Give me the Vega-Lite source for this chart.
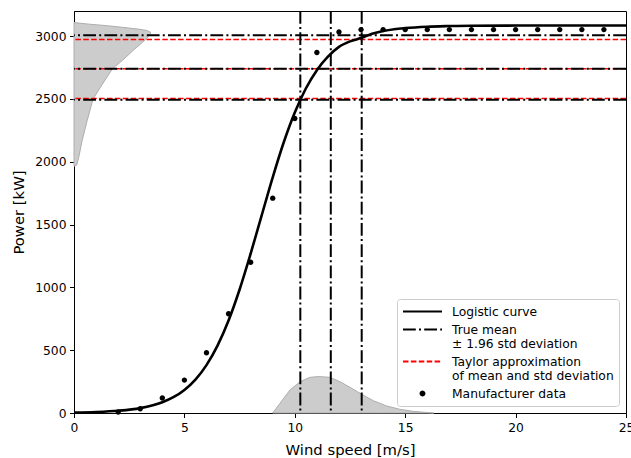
{
  "$schema": "https://vega.github.io/schema/vega-lite/v6.json",
  "autosize": {"type": "none"},
  "padding": {"left": 74, "top": 11, "right": 5, "bottom": 45},
  "width": 552,
  "height": 402,
  "config": {
    "font": "DejaVu Sans",
    "view": {"stroke": "black", "strokeWidth": 1},
    "axis": {
      "domainColor": "black", "tickColor": "black", "labelColor": "black", "titleColor": "black",
      "labelFontSize": 12.3, "titleFontSize": 14.8, "titleFontWeight": "normal",
      "tickSize": 4.5, "grid": false, "labelFont": "DejaVu Sans", "titleFont": "DejaVu Sans",
      "labelPadding": 3.5, "labelFlush": false
    },
    "legend": {
      "orient": "bottom-right", "offset": 7, "padding": 5,
      "fillColor": "rgba(255,255,255,0.8)", "strokeColor": "#cccccc", "cornerRadius": 3,
      "symbolSize": 1521, "symbolStrokeWidth": 2, "symbolFillColor": "black",
      "labelFontSize": 12.3, "labelFont": "DejaVu Sans", "labelColor": "black",
      "labelOffset": 9, "rowPadding": 3, "clipHeight": 15, "labelLimit": 400
    }
  },
  "datasets": {
    "curve": [
      {"v": 0, "P": 3.6}, {"v": 1, "P": 7.9}, {"v": 2, "P": 17.7}, {"v": 3, "P": 38.9},
      {"v": 4, "P": 85.3}, {"v": 4.5, "P": 125.6}, {"v": 5, "P": 183.6}, {"v": 5.5, "P": 266},
      {"v": 6, "P": 381}, {"v": 6.5, "P": 536}, {"v": 7, "P": 736}, {"v": 7.5, "P": 983},
      {"v": 8, "P": 1268}, {"v": 8.5, "P": 1573}, {"v": 9, "P": 1876}, {"v": 9.5, "P": 2155},
      {"v": 10, "P": 2392}, {"v": 10.5, "P": 2583}, {"v": 11, "P": 2729}, {"v": 11.5, "P": 2836},
      {"v": 12, "P": 2914}, {"v": 12.5, "P": 2958}, {"v": 13, "P": 2985}, {"v": 13.5, "P": 3018},
      {"v": 14, "P": 3040}, {"v": 14.5, "P": 3055}, {"v": 15, "P": 3064}, {"v": 16, "P": 3075},
      {"v": 17, "P": 3080}, {"v": 18, "P": 3083}, {"v": 20, "P": 3084}, {"v": 25, "P": 3085}
    ],
    "pts": [
      {"v": 2, "P": 8, "series": "Manufacturer data"}, {"v": 3, "P": 34, "series": "Manufacturer data"},
      {"v": 4, "P": 119, "series": "Manufacturer data"}, {"v": 5, "P": 262, "series": "Manufacturer data"},
      {"v": 6, "P": 480, "series": "Manufacturer data"}, {"v": 7, "P": 790, "series": "Manufacturer data"},
      {"v": 8, "P": 1200, "series": "Manufacturer data"}, {"v": 9, "P": 1710, "series": "Manufacturer data"},
      {"v": 10, "P": 2344, "series": "Manufacturer data"}, {"v": 11, "P": 2870, "series": "Manufacturer data"},
      {"v": 12, "P": 3033, "series": "Manufacturer data"}, {"v": 13, "P": 3052, "series": "Manufacturer data"},
      {"v": 14, "P": 3052, "series": "Manufacturer data"}, {"v": 15, "P": 3052, "series": "Manufacturer data"},
      {"v": 16, "P": 3052, "series": "Manufacturer data"}, {"v": 17, "P": 3052, "series": "Manufacturer data"},
      {"v": 18, "P": 3052, "series": "Manufacturer data"}, {"v": 19, "P": 3052, "series": "Manufacturer data"},
      {"v": 20, "P": 3052, "series": "Manufacturer data"}, {"v": 21, "P": 3052, "series": "Manufacturer data"},
      {"v": 22, "P": 3052, "series": "Manufacturer data"}, {"v": 23, "P": 3052, "series": "Manufacturer data"},
      {"v": 24, "P": 3052, "series": "Manufacturer data"}
    ],
    "hblack": [
      {"P": 3007, "series": "True mean"}, {"P": 2740, "series": "True mean"}, {"P": 2493, "series": "True mean"}
    ],
    "hred": [
      {"P": 2973, "series": "Taylor approximation"}, {"P": 2740, "series": "Taylor approximation"}, {"P": 2503, "series": "Taylor approximation"}
    ],
    "vblack": [
      {"v": 10.25, "series": "True mean"}, {"v": 11.63, "series": "True mean"}, {"v": 13.03, "series": "True mean"}
    ],
    "dleft": [
      {"P": 1965, "w": 0}, {"P": 1972, "w": 0.12}, {"P": 2040, "w": 0.22}, {"P": 2170, "w": 0.37},
      {"P": 2330, "w": 0.6}, {"P": 2498, "w": 0.86}, {"P": 2600, "w": 1.22}, {"P": 2742, "w": 1.75},
      {"P": 2808, "w": 2.2}, {"P": 2890, "w": 2.7}, {"P": 2973, "w": 3.24}, {"P": 3015, "w": 3.45},
      {"P": 3030, "w": 3.47}, {"P": 3045, "w": 3.3}, {"P": 3055, "w": 2.95}, {"P": 3070, "w": 2.2},
      {"P": 3083, "w": 1.5}, {"P": 3095, "w": 0.7}, {"P": 3108, "w": 0}
    ],
    "dbottom": [
      {"v": 9.0, "h": 0}, {"v": 9.33, "h": 77}, {"v": 9.78, "h": 183}, {"v": 10.24, "h": 249},
      {"v": 10.69, "h": 284}, {"v": 11.07, "h": 290}, {"v": 11.59, "h": 284}, {"v": 12.05, "h": 249},
      {"v": 12.5, "h": 204}, {"v": 13.03, "h": 149}, {"v": 13.56, "h": 98}, {"v": 14.16, "h": 56},
      {"v": 14.76, "h": 29}, {"v": 15.37, "h": 13}, {"v": 15.97, "h": 4}, {"v": 16.3, "h": 0}
    ]
  },
  "layer": [
    {
      "data": {"name": "dleft"},
      "mark": {"type": "area", "orient": "horizontal", "fill": "#cccccc", "stroke": "#aeaeae", "strokeWidth": 1},
      "encoding": {
        "x": {"field": "w", "type": "quantitative", "stack": null,
              "scale": {"domain": [0, 25], "nice": false, "zero": false},
              "axis": {"values": [0, 5, 10, 15, 20, 25], "titlePadding": 9},
              "title": "Wind speed [m/s]"},
        "y": {"field": "P", "type": "quantitative",
              "scale": {"domain": [0, 3200], "nice": false},
              "axis": {"values": [0, 500, 1000, 1500, 2000, 2500, 3000], "format": "d", "titlePadding": 8},
              "title": "Power [kW]"}
      }
    },
    {
      "data": {"name": "dbottom"},
      "mark": {"type": "area", "fill": "#cccccc", "stroke": "#aeaeae", "strokeWidth": 1},
      "encoding": {
        "x": {"field": "v", "type": "quantitative", "title": "Wind speed [m/s]"},
        "y": {"field": "h", "type": "quantitative", "stack": null, "title": "Power [kW]"}
      }
    },
    {
      "data": {"name": "hred"},
      "mark": {"type": "rule", "strokeWidth": 1.5},
      "encoding": {
        "y": {"field": "P", "type": "quantitative", "title": "Power [kW]"},
        "color": {"field": "series", "type": "nominal",
                  "scale": {"domain": ["Logistic curve", "True mean", "Taylor approximation", "Manufacturer data"], "range": ["black", "black", "red", "black"]},
                  "legend": {"title": null, "labelExpr": "datum.value == 'True mean' ? ['True mean', '± 1.96 std deviation'] : datum.value == 'Taylor approximation' ? ['Taylor approximation', 'of mean and std deviation'] : datum.label"}},
        "strokeDash": {"field": "series", "type": "nominal",
                  "scale": {"domain": ["Logistic curve", "True mean", "Taylor approximation", "Manufacturer data"], "range": [[1, 0], [12.8, 3.2, 2, 3.2], [5.5, 2.4], [1, 0]]},
                  "legend": {"title": null, "labelExpr": "datum.value == 'True mean' ? ['True mean', '± 1.96 std deviation'] : datum.value == 'Taylor approximation' ? ['Taylor approximation', 'of mean and std deviation'] : datum.label"}}
      }
    },
    {
      "data": {"name": "hblack"},
      "mark": {"type": "rule", "strokeWidth": 2},
      "encoding": {
        "y": {"field": "P", "type": "quantitative", "title": "Power [kW]"},
        "color": {"field": "series", "type": "nominal"},
        "strokeDash": {"field": "series", "type": "nominal"}
      }
    },
    {
      "data": {"name": "vblack"},
      "mark": {"type": "rule", "strokeWidth": 2},
      "encoding": {
        "x": {"field": "v", "type": "quantitative", "title": "Wind speed [m/s]"},
        "color": {"field": "series", "type": "nominal"},
        "strokeDash": {"field": "series", "type": "nominal"}
      }
    },
    {
      "data": {"name": "curve"},
      "mark": {"type": "line", "color": "black", "strokeWidth": 2.6, "interpolate": "monotone"},
      "encoding": {
        "x": {"field": "v", "type": "quantitative", "title": "Wind speed [m/s]"},
        "y": {"field": "P", "type": "quantitative", "title": "Power [kW]"}
      }
    },
    {
      "data": {"name": "pts"},
      "mark": {"type": "point", "filled": true, "size": 2900, "opacity": 1},
      "encoding": {
        "x": {"field": "v", "type": "quantitative", "title": "Wind speed [m/s]"},
        "y": {"field": "P", "type": "quantitative", "title": "Power [kW]"},
        "color": {"field": "series", "type": "nominal"},
        "shape": {"field": "series", "type": "nominal",
                  "scale": {"domain": ["Logistic curve", "True mean", "Taylor approximation", "Manufacturer data"], "range": ["M-1,0L1,0", "M-1,0L1,0", "M-1,0L1,0", "M-0.1,0A0.1,0.1 0 1,0 0.1,0A0.1,0.1 0 1,0 -0.1,0Z"]},
                  "legend": {"title": null, "labelExpr": "datum.value == 'True mean' ? ['True mean', '± 1.96 std deviation'] : datum.value == 'Taylor approximation' ? ['Taylor approximation', 'of mean and std deviation'] : datum.label"}}
      }
    }
  ]
}
